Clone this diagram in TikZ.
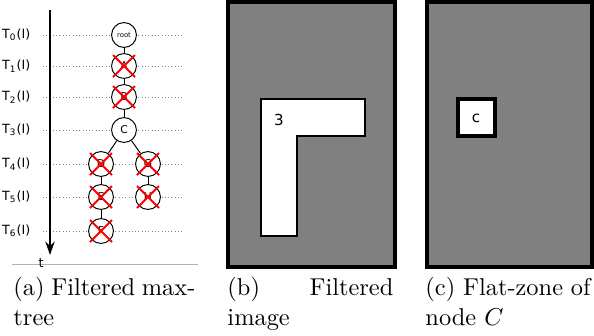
\documentclass[tikz,border=0pt]{standalone}
\usepackage{fontspec}
\usepackage{amsmath}
\usetikzlibrary{arrows.meta}
\newfontfamily\figfont{DejaVu Sans}
\def\cross{11}

\begin{document}
\begin{tikzpicture}[x=0.41pt, y=-0.41pt]
  \tikzstyle{level}=[draw=gray, densely dotted, line width=0.35pt]
  \tikzstyle{treenode}=[circle, draw, fill=white, line width=0.4pt, minimum size=10.2pt, inner sep=0pt, font=\figfont\fontsize{4.4}{4}\selectfont]
  \tikzstyle{cut}=[draw=red, line width=0.8pt]
  \tikzstyle{frame}=[draw, line width=1.3pt, fill=gray]
  \tikzstyle{zone}=[draw, line width=0.9pt, fill=white]
  \tikzstyle{caption}=[anchor=north west, inner sep=0pt, align=justify]

  \useasboundingbox (0,0) rectangle (594,335);

  % levels of the tree
  \foreach \name / \y in {0/35, 1/66, 2/97, 3/130, 4/164, 5/197, 6/231} {
    \node[anchor=east, font=\figfont\fontsize{5.2}{5}\selectfont] (T-\name) at (39,\y) {T\textsubscript{\name}(I)};
    \coordinate (L-\name) at (43,\y);
    \coordinate (R-\name) at (182,\y);
    \draw[level] (L-\name) -- (R-\name);
  }

  % time axis
  \coordinate (top) at (50,10);
  \coordinate (bottom) at (50,255);
  \draw[line width=0.9pt, -{Stealth[length=5.5pt, width=3.8pt]}] (top) -- (bottom);
  \coordinate (base-l) at (12,264);
  \coordinate (base-r) at (198,264);
  \draw[gray!60, line width=0.4pt] (base-l) -- (base-r);
  \node[font=\figfont\fontsize{5.2}{5}\selectfont, inner sep=0pt] (t) at (41,263) {t};

  % max-tree
  \node[treenode, font=\figfont\fontsize{2.8}{3}\selectfont] (root) at (124,35) {root};
  \node[treenode] (A) at (124,66) {A};
  \node[treenode] (B) at (124,97) {B};
  \node[treenode] (C) at (124,130) {C};
  \node[treenode] (D) at (101,164) {D};
  \node[treenode] (G) at (148,164) {G};
  \node[treenode] (E) at (101,197) {E};
  \node[treenode] (H) at (148,197) {H};
  \node[treenode] (F) at (101,231) {F};

  \foreach \source / \dest in {root/A, A/B, B/C, C/D, C/G, D/E, E/F, G/H}
    \draw[line width=0.4pt] (\source) -- (\dest);

  % filtered nodes
  \foreach \name in {A, B, D, G, E, H, F} {
    \draw[cut] ([shift={(-\cross,-\cross)}]\name.center) -- ([shift={(\cross,\cross)}]\name.center);
    \draw[cut] ([shift={(-\cross,\cross)}]\name.center) -- ([shift={(\cross,-\cross)}]\name.center);
  }

  % filtered image
  \draw[frame] (228,2) rectangle (395,267);
  \draw[zone] (261,99) -- (365,99) -- (365,136) -- (297,136) -- (297,236) -- (261,236) -- cycle;
  \node[font=\figfont\fontsize{6.2}{6}\selectfont] (three) at (279,120) {3};

  % flat-zone
  \draw[frame] (427,2) rectangle (592,267);
  \draw[zone, line width=1.4pt] (458,99) rectangle (495,136);
  \node[font=\figfont\fontsize{6.2}{6}\selectfont] (c) at (476,118) {c};

  % captions
  \node[caption, text width=74.6pt] (cap-a) at (13,277) {(a) Filtered max-\linebreak tree};
  \node[caption, text width=68pt] (cap-b) at (227,277) {(b) Filtered\linebreak image};
  \node[caption, text width=67.7pt] (cap-c) at (425,277) {(c) Flat-zone of\linebreak node $C$};
\end{tikzpicture}
\end{document}
